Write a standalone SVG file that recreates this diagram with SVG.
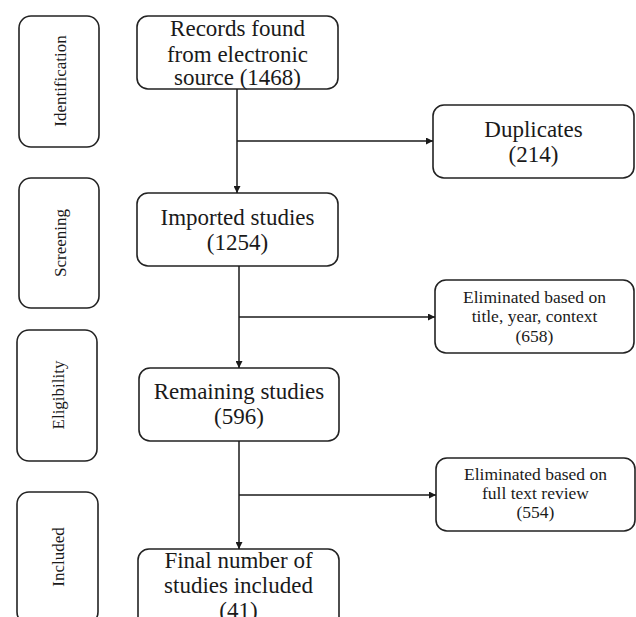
<svg xmlns="http://www.w3.org/2000/svg" width="636" height="617" viewBox="0 0 636 617">
<defs>
<marker id="arr" viewBox="0 0 10 10" refX="10" refY="5" markerWidth="7" markerHeight="7" markerUnits="userSpaceOnUse" orient="auto">
<path d="M0,0 L10,5 L0,10 z" fill="#1a1a1a"/>
</marker>
</defs>
<style>
.box{fill:#fff;stroke:#222;stroke-width:1.6}
.t{font-family:"Liberation Serif","Times New Roman",serif;fill:#1a1a1a;text-anchor:middle}
.big{font-size:23px}
.sm{font-size:17.5px}
.ph{font-size:17px}
.ln{fill:none;stroke:#1a1a1a;stroke-width:1.5}
</style>
<rect width="636" height="617" fill="#fff"/>
<g id="phase-identification">
<rect class="box" x="19" y="16" width="80" height="131" rx="12"/>
<text class="t ph" transform="translate(66,81) rotate(-90)">Identification</text>
</g>
<g id="phase-screening">
<rect class="box" x="19" y="178" width="80" height="130" rx="12"/>
<text class="t ph" transform="translate(66,243) rotate(-90)">Screening</text>
</g>
<g id="phase-eligibility">
<rect class="box" x="17" y="330" width="80" height="131" rx="12"/>
<text class="t ph" transform="translate(64,395) rotate(-90)">Eligibility</text>
</g>
<g id="phase-included">
<rect class="box" x="17" y="492" width="81" height="132" rx="12"/>
<text class="t ph" transform="translate(64,557) rotate(-90)">Included</text>
</g>
<g id="records">
<rect class="box" x="137" y="16" width="201" height="73" rx="11"/>
<text class="t big" x="237.5" y="36">Records found</text>
<text class="t big" x="237.5" y="62">from electronic</text>
<text class="t big" x="237.5" y="85">source (1468)</text>
</g>
<g id="duplicates">
<rect class="box" x="433" y="105" width="201" height="73" rx="11"/>
<text class="t big" x="533.5" y="137">Duplicates</text>
<text class="t big" x="533.5" y="162">(214)</text>
</g>
<g id="imported">
<rect class="box" x="137" y="193" width="201" height="73" rx="11"/>
<text class="t big" x="237.5" y="225">Imported studies</text>
<text class="t big" x="237.5" y="250">(1254)</text>
</g>
<g id="elim-title">
<rect class="box" x="435" y="280" width="199" height="73" rx="11"/>
<text class="t sm" x="534.5" y="303">Eliminated based on</text>
<text class="t sm" x="534.5" y="322">title, year, context</text>
<text class="t sm" x="534.5" y="342">(658)</text>
</g>
<g id="remaining">
<rect class="box" x="139" y="368" width="200" height="73" rx="11"/>
<text class="t big" x="239" y="399">Remaining studies</text>
<text class="t big" x="239" y="424">(596)</text>
</g>
<g id="elim-fulltext">
<rect class="box" x="436" y="458" width="199" height="73" rx="11"/>
<text class="t sm" x="535.5" y="480">Eliminated based on</text>
<text class="t sm" x="535.5" y="499">full text review</text>
<text class="t sm" x="535.5" y="518">(554)</text>
</g>
<g id="final">
<rect class="box" x="138" y="549" width="201" height="80" rx="11"/>
<text class="t big" x="238.5" y="568">Final number of</text>
<text class="t big" x="238.5" y="593">studies included</text>
<text class="t big" x="238.5" y="618">(41)</text>
</g>
<g id="connectors">
<path class="ln" d="M237,89 V193" marker-end="url(#arr)"/>
<path class="ln" d="M237,141 H433" marker-end="url(#arr)"/>
<path class="ln" d="M239,266 V368" marker-end="url(#arr)"/>
<path class="ln" d="M239,317 H435" marker-end="url(#arr)"/>
<path class="ln" d="M239,441 V549" marker-end="url(#arr)"/>
<path class="ln" d="M239,495 H436" marker-end="url(#arr)"/>
</g>
</svg>
